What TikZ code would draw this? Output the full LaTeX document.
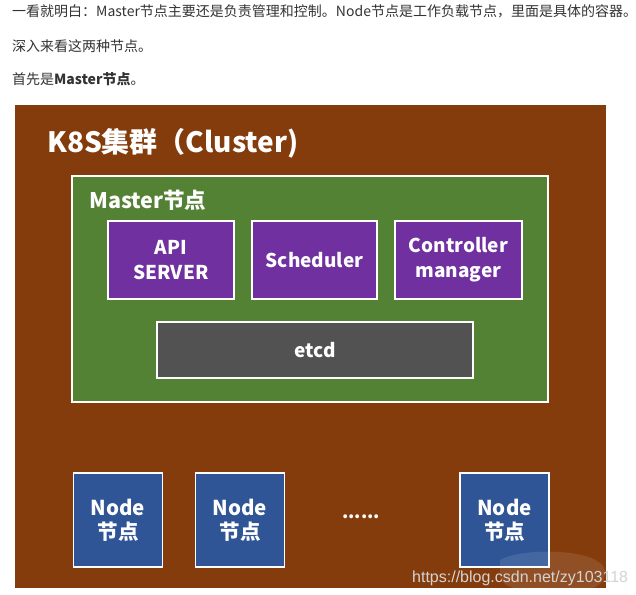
\documentclass[tikz,border=0pt]{standalone}
\usepackage{fontspec}
\setmainfont{Noto Sans CJK SC}
\newfontfamily\wmfont{Liberation Sans}
\definecolor{clusterbrown}{HTML}{843C0C}
\definecolor{mastergreen}{HTML}{548235}
\definecolor{comppurple}{HTML}{7030A0}
\definecolor{etcdgray}{HTML}{525252}
\definecolor{nodeblue}{HTML}{2F5597}
\definecolor{bodytext}{HTML}{333333}
\definecolor{wmgray}{HTML}{D4D4D4}
\tikzset{
  bodyline/.style={anchor=base west, inner sep=0pt, text=bodytext, font=\fontsize{14bp}{16bp}\selectfont},
  cluster/.style={fill=clusterbrown, draw=none, inner sep=0pt},
  masterbox/.style={fill=mastergreen, draw=white, line width=2bp, inner sep=0pt},
  comp/.style={fill=comppurple, draw=white, line width=1.5bp, text=white, align=center, inner sep=0pt,
    font=\fontsize{19bp}{25bp}\selectfont\bfseries, minimum height=78bp},
  etcdbox/.style={fill=etcdgray, draw=white, line width=1.5bp, text=white, inner sep=0pt,
    font=\fontsize{19bp}{25bp}\selectfont\bfseries},
  workernode/.style={fill=nodeblue, draw=white, line width=1.5bp, text=white, align=center, inner sep=0pt,
    font=\fontsize{20.5bp}{24bp}\selectfont\bfseries, minimum width=89bp, minimum height=94bp},
  heading/.style={anchor=base west, inner sep=0pt, text=white, font=\bfseries},
}
\begin{document}
\begin{tikzpicture}[x=1bp,y=-1bp]
\useasboundingbox (0,0) rectangle (636,595);
\fill[white] (0,0) rectangle (636,595);

% intro text
\node[bodyline] (l1) at (12,16.5) {一看就明白：Master节点主要还是负责管理和控制。Node节点是工作负载节点，里面是具体的容器。};
\node[bodyline] (l2) at (12,51.5) {深入来看这两种节点。};
\node[bodyline] (l3) at (12,84.5) {首先是\textbf{Master节点}。};

% cluster
\node[cluster, minimum width=591bp, minimum height=483bp] (cl) at (310.5,346.5) {};
\node[heading, font=\fontsize{28bp}{30bp}\selectfont\bfseries] (cltitle) at (47,153) {K8S集群（Cluster)};

% master
\node[masterbox, minimum width=475.5bp, minimum height=225.5bp] (master) at (310.25,288.75) {};
\node[heading, font=\fontsize{21.5bp}{23bp}\selectfont\bfseries] (mtitle) at (89,208) {Master节点};

\node[comp, minimum width=126bp] (api) at (171,260) {API\\SERVER};
\node[comp, minimum width=125bp] (sched) at (314.5,260) {Scheduler};
\node[comp, minimum width=127bp] (ctrl) at (458.5,260) {Controller\\manager};
\node[etcdbox, minimum width=316bp, minimum height=56bp] (etcd) at (315,350) {etcd};

% worker nodes
\node[workernode] (n1) at (118,520) {Node\\节点};
\node[workernode] (n2) at (240,520) {Node\\节点};
\node[text=white, font=\fontsize{18bp}{20bp}\selectfont\bfseries, inner sep=0pt] (dots) at (361,517) {......};
\node[workernode] (n3) at (504.5,520) {Node\\节点};

% watermark
\fill[white, opacity=0.1] (500,560) .. controls (520,548) and (590,548) .. (603,566)
  .. controls (610,578) and (600,592) .. (570,592) .. controls (530,593) and (505,590) .. (500,578) -- cycle;
\node[anchor=base west, inner sep=0pt, text=wmgray, font=\wmfont\fontsize{16bp}{18bp}\selectfont] (wm) at (412,582) {https://blog.csdn.net/zy103118};
\end{tikzpicture}
\end{document}
